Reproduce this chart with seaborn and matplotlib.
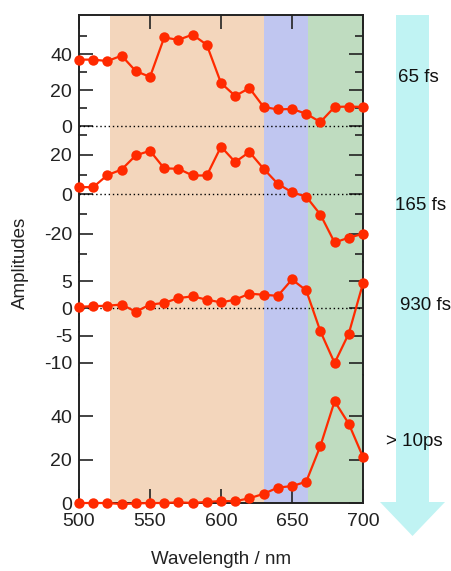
import numpy as np
import pandas as pd
import seaborn as sns
import matplotlib
matplotlib.use("Agg")
import matplotlib.pyplot as plt
from matplotlib.patches import Polygon
from matplotlib.ticker import FixedLocator

# ---------------- data ----------------
wavelength = list(range(500, 701, 10))
amp_65fs = [36.9, 36.9, 36.1, 39.1, 30.5, 27.3, 49.2, 47.9, 50.8, 45.1, 23.9,
            16.7, 21.1, 10.6, 9.2, 9.5, 6.8, 2.2, 10.6, 10.8, 10.6]
amp_165fs = [3.6, 3.6, 9.7, 12.5, 19.7, 22.0, 13.1, 12.9, 9.5, 9.5, 24.1,
             16.3, 21.4, 12.9, 5.3, 1.0, -1.2, -10.3, -24.4, -22.0, -20.0]
amp_930fs = [0.3, 0.4, 0.5, 0.7, -0.6, 0.7, 1.0, 1.9, 2.2, 1.6, 1.1,
             1.6, 2.7, 2.5, 2.3, 5.3, 3.3, -4.2, -10.0, -4.6, 4.6]
amp_10ps = [0.0, 0.0, 0.0, -0.5, -0.2, 0.0, 0.0, 0.3, 0.0, 0.5, 0.9,
            0.8, 2.2, 4.2, 7.1, 7.8, 9.8, 26.3, 46.9, 36.5, 21.2]
series_labels = ["65 fs", "165 fs", "930 fs", "> 10ps"]
region_bounds = [522, 630, 661, 700]
x_ticks = [500, 550, 600, 650, 700]

sns.set_style("ticks")
plt.rcParams['font.family'] = ['Liberation Sans', 'DejaVu Sans']
plt.rcParams['axes.unicode_minus'] = False

W, H = 451, 571
fig = plt.figure(figsize=(W / 100, H / 100), dpi=100)
fig.patch.set_facecolor("white")


def fx(px):
    return px / W


def fy(py):
    return 1 - py / H


# ---------- arrow (behind) ----------
arrow = Polygon([(fx(396), fy(15)), (fx(429), fy(15)), (fx(429), fy(502)),
                 (fx(445), fy(502)), (fx(412.5), fy(536)), (fx(380), fy(502)),
                 (fx(396), fy(502))], closed=True, transform=fig.transFigure,
                facecolor="#c0f3f3", edgecolor="none", zorder=0)
fig.patches.append(arrow)

left_px, right_px = 79, 363
panels = [
    # (top_px, bottom_px, ylim, major, minor, data)
    (15, 135, (-5, 61.7), [0, 20, 40], [10, 30, 50], amp_65fs),
    (135, 262, (-34.3, 30), [-20, 0, 20], [-30, -10, 10, 30], amp_165fs),
    (262, 375, (-12.2, 8.5), [-10, -5, 0, 5], [], amp_930fs),
    (375, 503, (0, 59), [0, 20, 40], [], amp_10ps),
]
label_y = [78, 205, 305, 441]
label_x = [418.5, 420.5, 425, 414.5]

line_col = "#ff2a00"
shade_cols = ["#f3d6bc", "#c0c6f0", "#bfdcc0"]
spine_col = "#222222"

axes = []
for i, (tp, bp, ylim, major, minor, vals) in enumerate(panels):
    ax = fig.add_axes([fx(left_px), fy(bp), (right_px - left_px) / W, (bp - tp) / H])
    axes.append(ax)
    ax.set_facecolor("white")
    for j in range(3):
        ax.axvspan(region_bounds[j], region_bounds[j + 1], color=shade_cols[j],
                   lw=0, zorder=0)
    if i < 3:
        ax.axhline(0, color="black", ls=(0, (1, 2)), lw=1.0, zorder=1)
    df = pd.DataFrame({"wavelength": wavelength, "amp": vals})
    sns.lineplot(data=df, x="wavelength", y="amp", ax=ax, color=line_col,
                 marker="o", markersize=7.5, markeredgewidth=0, lw=1.6,
                 clip_on=False, zorder=3)
    ax.set_xlim(500, 700)
    ax.set_ylim(*ylim)
    ax.set_xlabel("")
    ax.set_ylabel("")
    ax.yaxis.set_major_locator(FixedLocator(major))
    ax.yaxis.set_minor_locator(FixedLocator(minor))
    ax.set_yticklabels([str(v) for v in major])
    ax.tick_params(axis="y", which="both", direction="in", left=True, right=True,
                   labelsize=14, colors=spine_col, width=1.2, pad=5)
    ax.tick_params(axis="y", which="major", length=10)
    ax.tick_params(axis="y", which="minor", length=6)
    ax.xaxis.set_major_locator(FixedLocator(x_ticks))
    ax.tick_params(axis="x", which="major", direction="in", length=10, width=1.2,
                   colors=spine_col, labelsize=14, top=(i == 0), bottom=(i == 3),
                   labelbottom=(i == 3), pad=7.5)
    for side in ["left", "right", "top", "bottom"]:
        ax.spines[side].set_color(spine_col)
        ax.spines[side].set_linewidth(1.4)
        ax.spines[side].set_visible(True)
    if i != 0:
        ax.spines["top"].set_visible(False)
    if i != 3:
        ax.spines["bottom"].set_visible(False)
    ax.set_zorder(2)
    fig.text(fx(label_x[i]), fy(label_y[i]), series_labels[i], ha="center",
             va="center", fontsize=13.5, color="#111111")

fig.text(fx(221), fy(560), "Wavelength / nm", ha="center", va="center",
         fontsize=13.5, color="#222222")
fig.text(fx(20), fy(263), "Amplitudes", rotation=90, ha="center", va="center",
         fontsize=13.5, color="#222222")

fig.savefig("out.png", dpi=100)
